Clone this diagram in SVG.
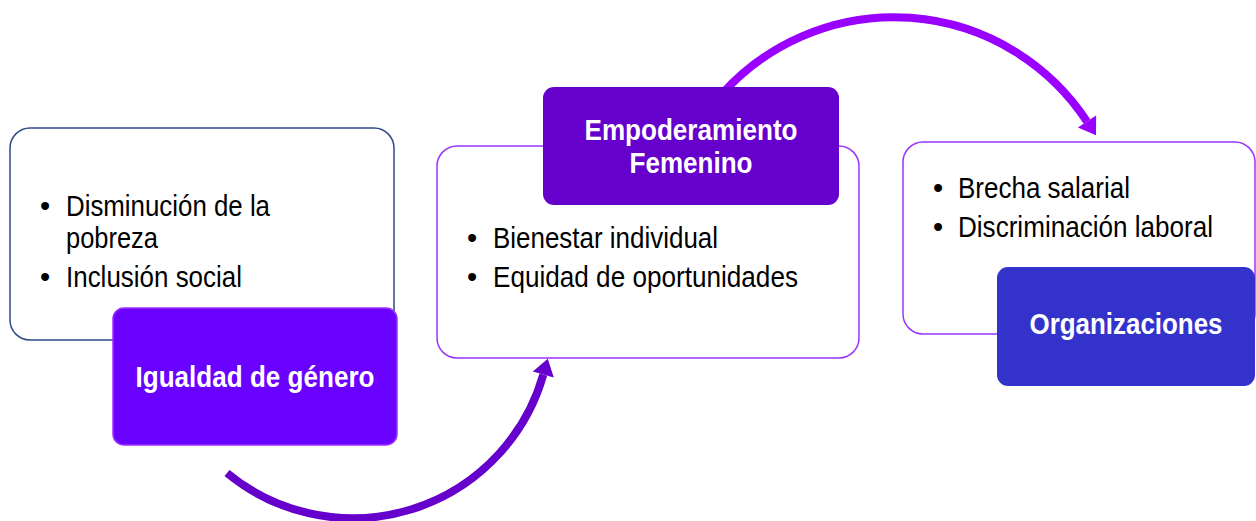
<svg xmlns="http://www.w3.org/2000/svg" width="1256" height="521" viewBox="0 0 1256 521">
<style>
.card{fill:#ffffff;stroke-width:1.5}
.body{font-family:"Liberation Sans",Arial,sans-serif;font-size:29px;fill:#000000}
.head{font-family:"Liberation Sans",Arial,sans-serif;font-size:29px;font-weight:bold;fill:#ffffff;text-anchor:middle}
.bul{font-family:"Liberation Sans",Arial,sans-serif;font-size:29px;fill:#000000;text-anchor:middle}
.arc{fill:none;stroke-width:8}
</style>
<defs>
<marker id="ahDark" markerUnits="userSpaceOnUse" markerWidth="20" markerHeight="24" viewBox="0 -11 16 22" refX="0" refY="0" orient="auto">
<path d="M0,-10 L15,0 L0,10 Z" fill="#6600CC"/>
</marker>
<marker id="ahLight" markerUnits="userSpaceOnUse" markerWidth="20" markerHeight="24" viewBox="0 -11 16 22" refX="0" refY="0" orient="auto">
<path d="M0,-10 L15,0 L0,10 Z" fill="#9900FF"/>
</marker>
</defs>
<rect width="1256" height="521" fill="#ffffff"/>
<g id="connectors">
<path class="arc" d="M227,473 A198,198 0 0 0 543.3,374.6" stroke="#6600CC" marker-end="url(#ahDark)"/>
<path class="arc" d="M721,95 A231,231 0 0 1 1087,121.5" stroke="#9900FF" marker-end="url(#ahLight)"/>
</g>
<g id="node-pobreza">
<rect class="card" x="10" y="128" width="384" height="212" rx="20" stroke="#2E4A87"/>
<text class="bul" x="45" y="216">•</text>
<text class="body" x="66" y="216" textLength="204" lengthAdjust="spacingAndGlyphs">Disminución de la</text>
<text class="body" x="66" y="248" textLength="92" lengthAdjust="spacingAndGlyphs">pobreza</text>
<text class="bul" x="45" y="287">•</text>
<text class="body" x="66" y="287" textLength="176" lengthAdjust="spacingAndGlyphs">Inclusión social</text>
</g>
<g id="node-igualdad">
<rect x="113" y="308" width="284" height="137" rx="11" fill="#6A00FF" stroke="#A22CFF" stroke-width="1.5"/>
<text class="head" x="255" y="387" textLength="239" lengthAdjust="spacingAndGlyphs">Igualdad de género</text>
</g>
<g id="node-bienestar">
<rect class="card" x="437" y="146" width="422" height="212" rx="20" stroke="#9933FF"/>
<text class="bul" x="472" y="248">•</text>
<text class="body" x="493" y="248" textLength="225" lengthAdjust="spacingAndGlyphs">Bienestar individual</text>
<text class="bul" x="472" y="287">•</text>
<text class="body" x="493" y="287" textLength="305" lengthAdjust="spacingAndGlyphs">Equidad de oportunidades</text>
</g>
<g id="node-empoderamiento">
<rect x="543" y="87" width="296" height="118" rx="11" fill="#6600CC"/>
<text class="head" x="691" y="140" textLength="213" lengthAdjust="spacingAndGlyphs">Empoderamiento</text>
<text class="head" x="691" y="173" textLength="123" lengthAdjust="spacingAndGlyphs">Femenino</text>
</g>
<g id="node-brecha">
<rect class="card" x="903" y="142" width="352" height="192" rx="20" stroke="#9933FF"/>
<text class="bul" x="938" y="198">•</text>
<text class="body" x="958" y="198" textLength="172" lengthAdjust="spacingAndGlyphs">Brecha salarial</text>
<text class="bul" x="938" y="237">•</text>
<text class="body" x="958" y="237" textLength="255" lengthAdjust="spacingAndGlyphs">Discriminación laboral</text>
</g>
<g id="node-organizaciones">
<rect x="997" y="267" width="258" height="119" rx="11" fill="#3333CC"/>
<text class="head" x="1126" y="334" textLength="193" lengthAdjust="spacingAndGlyphs">Organizaciones</text>
</g>
</svg>
